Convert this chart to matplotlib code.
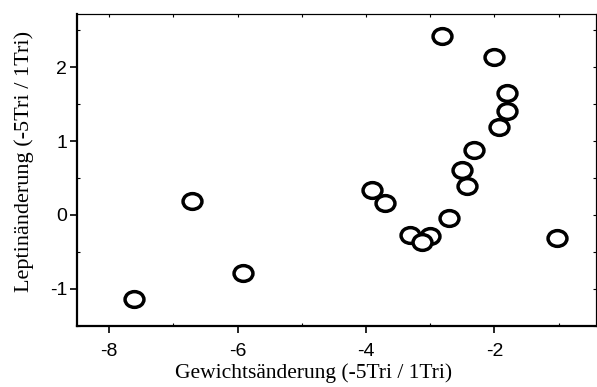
import numpy as np
import matplotlib.pyplot as plt
from matplotlib.path import Path
from matplotlib.transforms import Affine2D
from matplotlib.ticker import MultipleLocator

plt.rcParams['axes.unicode_minus'] = False

# Gewichts- und Leptinänderung
gewicht = [-7.61, -6.71, -5.92, -3.91, -3.71, -3.32, -3.01, -3.12, -2.71,
           -1.02, -2.81, -2.01, -1.81, -1.81, -1.92, -2.31, -2.51, -2.42]
leptin = [-1.14, 0.19, -0.78, 0.34, 0.16, -0.27, -0.28, -0.36, -0.04,
          -0.31, 2.42, 2.14, 1.65, 1.41, 1.19, 0.88, 0.61, 0.39]

xticks = [-8, -6, -4, -2]
yticks = [-1, 0, 1, 2]

fig = plt.figure(figsize=(5.97, 3.87), dpi=100)
ax = fig.add_axes([0.129, 0.158, 0.869, 0.806])

# etwas breiterer Kreis als Marker
oval = Path.unit_circle().transformed(Affine2D().scale(1.2, 1.0))
ax.scatter(gewicht, leptin, marker=oval, s=185, facecolors='white',
           edgecolors='black', linewidths=2.5, zorder=3)

ax.set_xlim(-8.5, -0.42)
ax.set_ylim(-1.5, 2.72)
ax.set_xticks(xticks)
ax.set_yticks(yticks)
ax.xaxis.set_minor_locator(MultipleLocator(1))
ax.yaxis.set_minor_locator(MultipleLocator(0.5))

ax.spines['left'].set_linewidth(1.6)
ax.spines['bottom'].set_linewidth(1.6)
ax.spines['top'].set_linewidth(0.8)
ax.spines['right'].set_linewidth(0.8)

ax.tick_params(which='major', direction='out', length=5, width=1.2,
               labelsize=14, pad=7)
ax.tick_params(which='minor', direction='in', length=2, width=0.8)
ax.tick_params(axis='y', which='major', pad=2)
for lab in ax.get_xticklabels() + ax.get_yticklabels():
    lab.set_family('Liberation Sans')

# Innenstriche oben und rechts
top = ax.secondary_xaxis('top')
top.xaxis.set_major_locator(MultipleLocator(1))
top.tick_params(direction='in', length=2, width=0.8, labeltop=False)
right = ax.secondary_yaxis('right')
right.yaxis.set_major_locator(MultipleLocator(0.5))
right.tick_params(direction='in', length=2, width=0.8, labelright=False)
top.spines['top'].set_linewidth(0.8)
right.spines['right'].set_linewidth(0.8)

ax.set_xlabel('Gewichtsänderung (-5Tri / 1Tri)', family='Liberation Serif',
              fontsize=15.5)
ax.set_ylabel('Leptinänderung (-5Tri / 1Tri)', family='Liberation Serif',
              fontsize=16)
ax.xaxis.set_label_coords(0.455, -0.12)
ax.yaxis.set_label_coords(-0.083, 0.526)

fig.savefig('out.png', dpi=100)
